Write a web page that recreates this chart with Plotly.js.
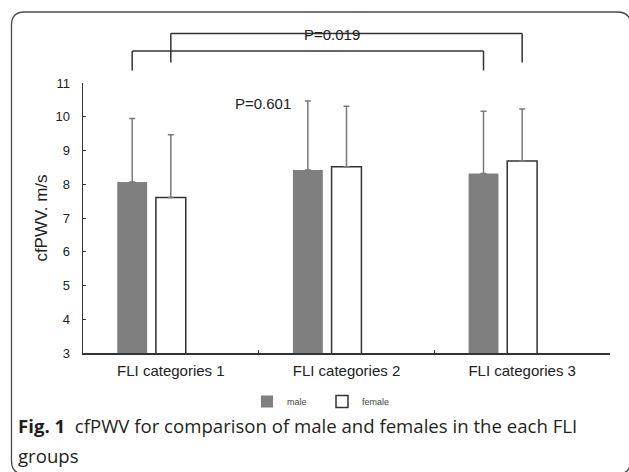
<!DOCTYPE html>
<html>
<head>
<meta charset="utf-8">
<script src="https://cdn.plot.ly/plotly-3.0.1.min.js"></script>
<style>html,body{margin:0;padding:0;background:#fff;}#chart{width:629px;height:472px;}</style>
</head>
<body>
<div id="chart"></div>
<script>
// ---- data ----
const categories = ["FLI categories 1", "FLI categories 2", "FLI categories 3"];
const seriesNames = ["male", "female"];
const maleMean = [8.07, 8.42, 8.32];
const maleSD = [1.88, 2.05, 1.84];
const femaleMean = [7.61, 8.52, 8.69];
const femaleSD = [1.86, 1.79, 1.54];
const pLabels = ["P=0.019", "P=0.601"];
const yTicks = [3, 4, 5, 6, 7, 8, 9, 10, 11];
const captionBold = "Fig. 1";
const captionLine1 = "cfPWV for comparison of male and females in the each FLI";
const captionLine2 = "groups";

// ---- layout constants ----
const W = 629, H = 472;
const M = {l: 83, r: 19, t: 83, b: 119};
const PW = W - M.l - M.r, PH = H - M.t - M.b;
const px2x = p => (p - M.l) / PW;
const py2y = p => (H - M.b - p) / PH;
const BAR_W = 0.17;
const MALE_SHIFT = -0.22;

const zeros = maleSD.map(() => 0);
const idx = categories.map((c, i) => i);

const errStyle = {type: 'data', symmetric: false, color: '#7a7a7a', thickness: 1.5, width: 3};

const traces = [
  {
    type: 'bar', name: seriesNames[0], x: categories, y: maleMean,
    width: BAR_W, offset: MALE_SHIFT - BAR_W / 2,
    marker: {color: '#7f7f7f', line: {color: '#7f7f7f', width: 0}},
    error_y: Object.assign({array: maleSD, arrayminus: zeros}, errStyle)
  },
  {
    type: 'bar', name: seriesNames[1], x: categories, y: femaleMean,
    width: BAR_W, offset: -BAR_W / 2,
    marker: {color: '#ffffff', line: {color: '#333333', width: 1.5}},
    error_y: Object.assign({array: femaleSD, arrayminus: zeros}, errStyle)
  }
];

// bracket helper (x in data index units, y in paper)
function bracket(xa, xb, yTop, yBottom) {
  const common = {xref: 'x', yref: 'paper', line: {color: '#333333', width: 1.5}};
  return [
    Object.assign({type: 'line', x0: xa, x1: xb, y0: yTop, y1: yTop}, common),
    Object.assign({type: 'line', x0: xa, x1: xa, y0: yTop, y1: yBottom}, common),
    Object.assign({type: 'line', x0: xb, x1: xb, y0: yTop, y1: yBottom}, common)
  ];
}

// frame (rounded rectangle) in paper coordinates
function framePath(x0, y0, x1, y1, r) {
  const X = px2x, Y = py2y;
  return 'M' + X(x0 + r) + ',' + Y(y0) +
    ' L' + X(x1 - r) + ',' + Y(y0) +
    ' Q' + X(x1) + ',' + Y(y0) + ' ' + X(x1) + ',' + Y(y0 + r) +
    ' L' + X(x1) + ',' + Y(y1 - r) +
    ' Q' + X(x1) + ',' + Y(y1) + ' ' + X(x1 - r) + ',' + Y(y1) +
    ' L' + X(x0 + r) + ',' + Y(y1) +
    ' Q' + X(x0) + ',' + Y(y1) + ' ' + X(x0) + ',' + Y(y1 - r) +
    ' L' + X(x0) + ',' + Y(y0 + r) +
    ' Q' + X(x0) + ',' + Y(y0) + ' ' + X(x0 + r) + ',' + Y(y0) + ' Z';
}

const shapes = []
  .concat(bracket(idx[0], idx[2], py2y(33.5), py2y(62.5)))
  .concat(bracket(idx[0] + MALE_SHIFT, idx[2] + MALE_SHIFT, py2y(51), py2y(70.5)))
  .concat([{type: 'path', xref: 'paper', yref: 'paper', path: framePath(11.5, 12, 630.5, 474, 13),
            line: {color: '#4a4a4a', width: 1.3}, fillcolor: 'rgba(0,0,0,0)'}]);

const annotations = [
  {xref: 'paper', yref: 'paper', x: px2x(331.5), y: py2y(35), text: pLabels[0], showarrow: false,
   xanchor: 'center', yanchor: 'middle', font: {family: 'Liberation Sans, Arial, sans-serif', size: 15, color: '#222'}},
  {xref: 'paper', yref: 'paper', x: px2x(263), y: py2y(103.5), text: pLabels[1], showarrow: false,
   xanchor: 'center', yanchor: 'middle', font: {family: 'Liberation Sans, Arial, sans-serif', size: 15, color: '#222'}},
  {xref: 'paper', yref: 'paper', x: px2x(16), y: py2y(425), text: '<b>' + captionBold + '</b>  ' + captionLine1,
   showarrow: false, xanchor: 'left', yanchor: 'middle', font: {family: 'Open Sans, Noto Sans, sans-serif', size: 18.6, color: '#231f20'}},
  {xref: 'paper', yref: 'paper', x: px2x(16), y: py2y(455), text: captionLine2,
   showarrow: false, xanchor: 'left', yanchor: 'middle', font: {family: 'Open Sans, Noto Sans, sans-serif', size: 18.6, color: '#231f20'}}
];

const layout = {
  width: W, height: H,
  margin: M,
  paper_bgcolor: '#ffffff', plot_bgcolor: '#ffffff',
  barmode: 'overlay',
  showlegend: true,
  legend: {orientation: 'h', x: px2x(322), y: py2y(401.5), xanchor: 'center', yanchor: 'middle',
           font: {family: 'Liberation Sans, Arial, sans-serif', size: 9, color: '#444'},
           itemwidth: 30, entrywidth: 30, entrywidthmode: 'pixels',
           bgcolor: 'rgba(0,0,0,0)', tracegroupgap: 0},
  font: {family: 'Liberation Sans, Arial, sans-serif', color: '#333'},
  xaxis: {
    type: 'category', range: [-0.5, 2.5], showline: true, linecolor: '#333', linewidth: 1.5,
    showgrid: false, zeroline: false, ticks: 'inside', ticklen: 3, tickson: 'boundaries',
    tickcolor: '#333', tickfont: {size: 15, color: '#222'}, ticklabelstandoff: 3, fixedrange: true
  },
  yaxis: {
    range: [3, 11], tickvals: yTicks, showline: true, linecolor: '#333', linewidth: 1.5,
    showgrid: false, zeroline: false, ticks: 'inside', ticklen: 3, tickcolor: '#333',
    tickfont: {size: 13, color: '#222'}, ticklabelstandoff: 9,
    title: {text: 'cfPWV. m/s', font: {size: 17, color: '#222'}, standoff: 3}
  },
  shapes: shapes,
  annotations: annotations
};

Plotly.newPlot('chart', traces, layout, {displayModeBar: false, staticPlot: true});
</script>
</body>
</html>
